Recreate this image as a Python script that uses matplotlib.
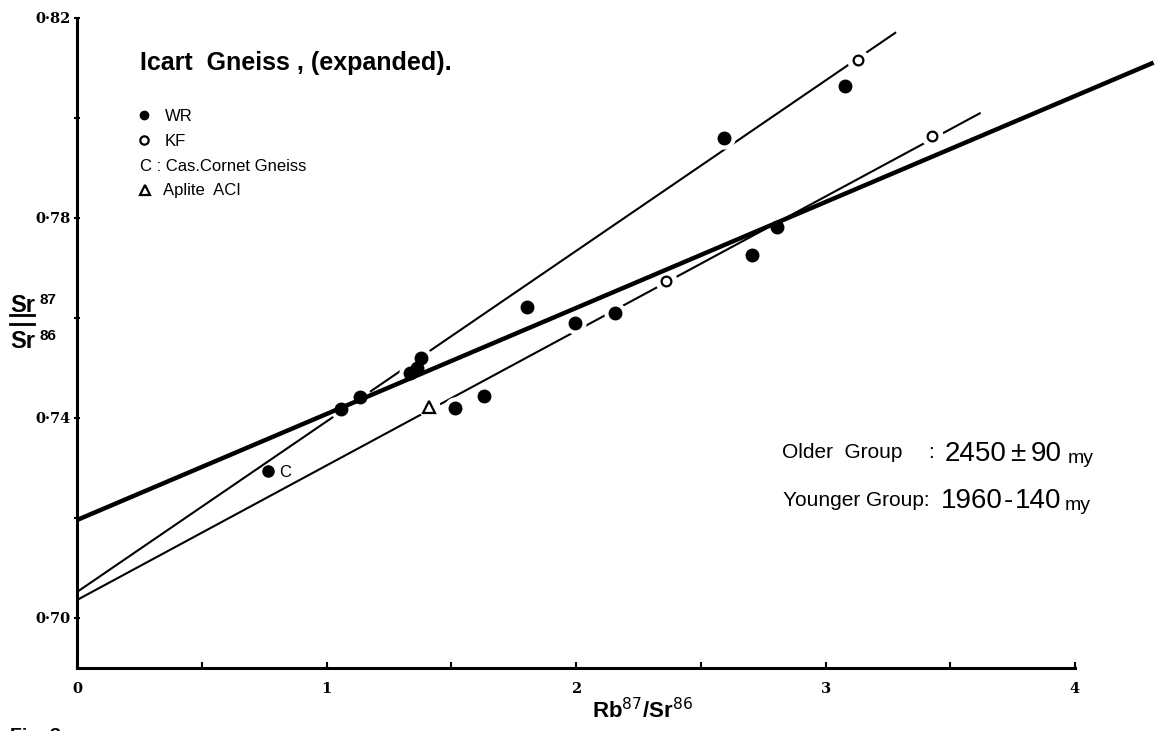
import matplotlib.pyplot as plt
import numpy as np

# Rb-Sr isochron diagram, Icart Gneiss (expanded scale)

W, H = 1163, 731

# whole-rock samples (filled circles)
wr_x = [1.06, 1.135, 1.334, 1.363, 1.378, 1.805, 2.594, 3.080,
        1.514, 1.63, 1.996, 2.155, 2.705, 2.805]
wr_y = [0.7418, 0.7442, 0.7490, 0.7500, 0.7520, 0.7622, 0.7960, 0.8064,
        0.7420, 0.7444, 0.7590, 0.7610, 0.7726, 0.7782]

# K-feldspar (open circles)
kf_x = [2.359, 3.131, 3.426]
kf_y = [0.7674, 0.8116, 0.7964]

# Cas. Cornet Gneiss and aplite
cc_x, cc_y = [0.765], [0.7294]
apl_x, apl_y = [1.41], [0.7422]

# isochrons: (intercept, slope, last x)
iso_all = (0.7196, 0.0212, 4.315)
iso_older = (0.7052, 0.0341, 3.283)
iso_younger = (0.7036, 0.0269, 3.622)

y_major = [0.70, 0.74, 0.78, 0.82]
y_major_labels = ['0·70', '0·74', '0·78', '0·82']
x_major = [0, 1, 2, 3, 4]


def px(x, y):
    """pixel position -> figure fraction"""
    return x / W, 1 - y / H


sans = 'Liberation Sans'

fig = plt.figure(figsize=(W / 100, H / 100), dpi=100)
ax = fig.add_axes([77 / W, 1 - 668 / H, 998 / W, 650 / H])
ax.set_xlim(0, 4)
ax.set_ylim(0.69, 0.82)

# thin isochrons first, so the white halos can break them around the points
for a, b, xe in (iso_older, iso_younger):
    xs = np.array([0, xe])
    ax.plot(xs, a + b * xs, color='black', lw=1.5, zorder=2,
            solid_capstyle='butt', clip_on=False)

halo_x = wr_x + kf_x + apl_x
halo_y = wr_y + kf_y + apl_y
ax.plot(halo_x, halo_y, 'o', ms=15, color='white', zorder=3, clip_on=False)

a, b, xe = iso_all
xs = np.array([0, xe])
ax.plot(xs, a + b * xs, color='black', lw=3.2, zorder=4,
        solid_capstyle='butt', clip_on=False)

ax.plot(wr_x, wr_y, 'o', ms=9, color='black', zorder=5, clip_on=False)
ax.plot(kf_x, kf_y, 'o', ms=7, mfc='white', mec='black', mew=1.6,
        zorder=5, clip_on=False)
ax.plot(cc_x, cc_y, 'o', ms=8, color='black', zorder=5)
ax.plot(apl_x, apl_y, '^', ms=8, mfc='white', mec='black', mew=1.6,
        zorder=5)
ax.annotate('C', (cc_x[0], cc_y[0]), xytext=(8, -4), textcoords='offset points',
            fontsize=12, family=sans)

# axes
for side in ('top', 'right'):
    ax.spines[side].set_visible(False)
for side in ('left', 'bottom'):
    ax.spines[side].set_linewidth(2.2)

ax.set_yticks(y_major)
ax.set_yticklabels(y_major_labels)
ax.set_yticks([0.72, 0.76, 0.80], minor=True)
ax.set_xticks(x_major)
ax.set_xticks([0.5, 1.5, 2.5, 3.5], minor=True)
ax.tick_params(axis='y', which='both', direction='inout', length=5, width=1.5,
               pad=2)
ax.tick_params(axis='x', which='both', direction='in', length=4, width=1.5,
               pad=10)
for lab in ax.get_xticklabels() + ax.get_yticklabels():
    lab.set_family('DejaVu Serif')
    lab.set_weight('bold')
    lab.set_fontsize(10.5)

# axis titles
fig.text(*px(10, 312), 'Sr', fontsize=17, fontweight='bold',
         family=sans, va='baseline')
fig.text(*px(40, 304), '87', fontsize=11, fontweight='bold',
         family=sans, va='baseline')
fig.text(*px(10, 348), 'Sr', fontsize=17, fontweight='bold',
         family=sans, va='baseline')
fig.text(*px(40, 340), '86', fontsize=11, fontweight='bold',
         family=sans, va='baseline')
fig.add_artist(plt.Line2D([10 / W, 34 / W], [1 - 315 / H, 1 - 315 / H],
                          color='black', lw=2))
fig.add_artist(plt.Line2D([10 / W, 34 / W], [1 - 324 / H, 1 - 324 / H],
                          color='black', lw=2))
fig.text(*px(642, 718), 'Rb$^{87}$/Sr$^{86}$', fontsize=16, fontweight='bold',
         family=sans, ha='center', va='baseline')

# title and key
fig.text(*px(140, 70), 'Icart  Gneiss , (expanded).', fontsize=18,
         fontweight='bold', family=sans, va='baseline')
key_font = dict(fontsize=12, family=sans, va='baseline')
fig.text(*px(165, 121), 'WR', **key_font)
fig.text(*px(165, 146), 'KF', **key_font)
fig.text(*px(140, 171), 'C : Cas.Cornet Gneiss', **key_font)
fig.text(*px(163, 195), 'Aplite  ACI', **key_font)
fig.add_artist(plt.Line2D([144 / W], [1 - 115 / H], marker='o', ms=6,
                          color='black'))
fig.add_artist(plt.Line2D([144 / W], [1 - 140 / H], marker='o', ms=6,
                          mfc='white', mec='black', mew=1.6))
fig.add_artist(plt.Line2D([145 / W], [1 - 190 / H], marker='^', ms=7,
                          mfc='white', mec='black', mew=1.6))

# ages
age_small = dict(fontsize=15, family=sans, va='baseline')
age_big = dict(fontsize=20, family=sans, va='baseline')
fig.text(*px(782, 458), 'Older  Group', **age_small)
fig.text(*px(928, 458), ':', **age_small)
fig.text(*px(945, 461), '2450', **age_big)
fig.text(*px(1010, 461), '±', **age_big)
fig.text(*px(1031, 461), '90', **age_big)
fig.text(*px(1068, 463), 'my', fontsize=14, family=sans, va='baseline')
fig.text(*px(783, 506), 'Younger Group:', **age_small)
fig.text(*px(941, 508), '1960', **age_big)
fig.text(*px(1004, 508), '-', **age_big)
fig.text(*px(1015, 508), '140', **age_big)
fig.text(*px(1065, 510), 'my', fontsize=14, family=sans, va='baseline')

fig.text(*px(10, 728), 'Fig. 3', fontsize=14, fontweight='bold', family=sans,
         va='top')

fig.savefig('out.png', dpi=100)
